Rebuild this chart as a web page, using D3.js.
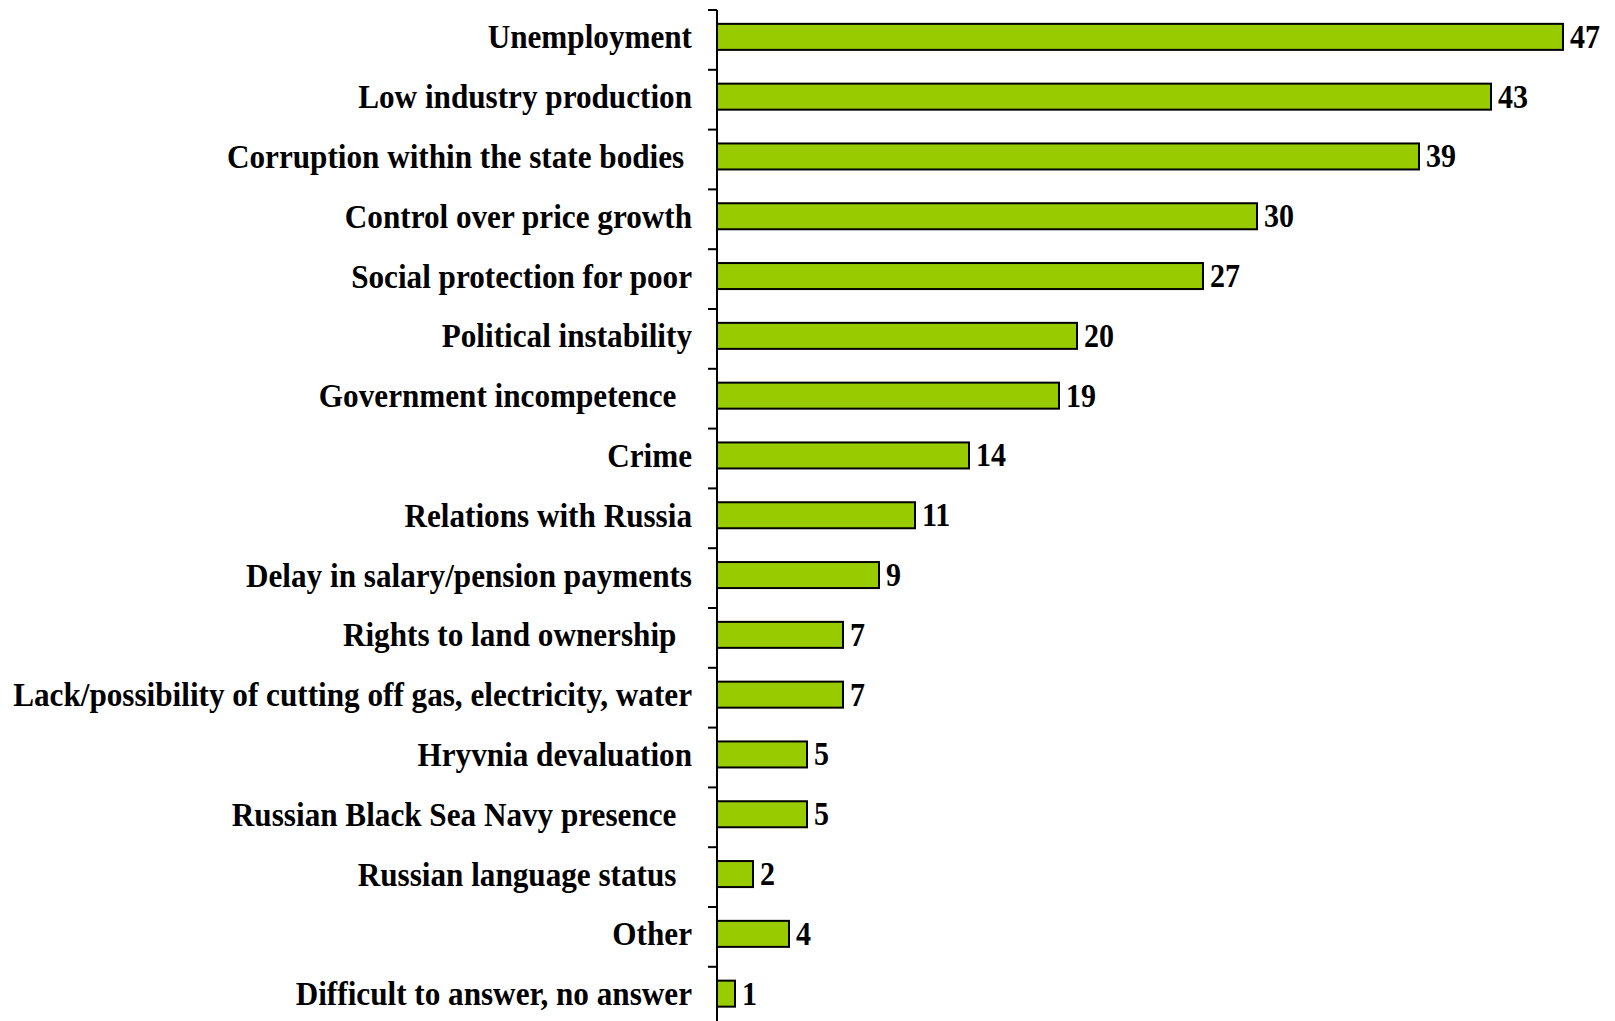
<!DOCTYPE html>
<html>
<head>
<meta charset="utf-8">
<script src="https://cdn.jsdelivr.net/npm/d3@7"></script>
<style>
  html, body { margin: 0; padding: 0; background: #ffffff; }
  svg { display: block; }
  text { font-family: "Liberation Serif", "Times New Roman", serif; font-weight: bold; fill: #000; white-space: pre; }
</style>
</head>
<body>
<svg id="chart" width="1615" height="1021"></svg>
<script>
const categories = [
  "Unemployment",
  "Low industry production",
  "Corruption within the state bodies ",
  "Control over price growth",
  "Social protection for poor",
  "Political instability",
  "Government incompetence  ",
  "Crime",
  "Relations with Russia",
  "Delay in salary/pension payments",
  "Rights to land ownership  ",
  "Lack/possibility of cutting off gas, electricity, water",
  "Hryvnia devaluation",
  "Russian Black Sea Navy presence  ",
  "Russian language status  ",
  "Other",
  "Difficult to answer, no answer"
];
const values = [47, 43, 39, 30, 27, 20, 19, 14, 11, 9, 7, 7, 5, 5, 2, 4, 1];

(function () {
const W = 1615, H = 1021;
const axisX = 717;
const topY = 10;
const step = 59.8;
const fontSize = 33;
const squeeze = 0.945;

const svg = d3.select("#chart");

const y = d3.scaleBand()
  .domain(categories)
  .range([topY, topY + step * categories.length])
  .paddingInner(0.565)
  .paddingOuter(0.2825)
  .align(0.41);

const x = d3.scaleLinear()
  .domain([0, 50])
  .range([axisX, axisX + 900]);

// bars
svg.append("g").selectAll("rect")
  .data(values)
  .join("rect")
  .attr("x", x(0))
  .attr("y", (d, i) => y(categories[i]))
  .attr("width", d => x(d) - x(0))
  .attr("height", y.bandwidth())
  .attr("fill", "#99CC00")
  .attr("stroke", "#000")
  .attr("stroke-width", 2);

// axis line + ticks at band boundaries
const ax = svg.append("g");
ax.append("line")
  .attr("x1", axisX).attr("x2", axisX)
  .attr("y1", topY).attr("y2", H)
  .attr("stroke", "#000").attr("stroke-width", 2);
const boundaries = d3.range(categories.length + 1).map(i => topY + i * y.step());
ax.selectAll("line.tick")
  .data(boundaries)
  .join("line")
  .attr("class", "tick")
  .attr("x1", axisX - 9).attr("x2", axisX)
  .attr("y1", d => d).attr("y2", d => d)
  .attr("stroke", "#000").attr("stroke-width", 2);

// category labels
svg.append("g").selectAll("g")
  .data(categories)
  .join("g")
  .attr("transform", d => `translate(${axisX - 25},${y(d) + y.bandwidth() / 2}) scale(${squeeze},1)`)
  .append("text")
  .attr("text-anchor", "end")
  .attr("dy", "0.35em")
  .attr("font-size", fontSize)
  .text(d => d);

// value labels
svg.append("g").selectAll("g")
  .data(values)
  .join("g")
  .attr("transform", (d, i) => `translate(${x(d) + 7},${y(categories[i]) + y.bandwidth() / 2}) scale(0.91,1)`)
  .append("text")
  .attr("text-anchor", "start")
  .attr("dy", "0.33em")
  .attr("font-size", fontSize)
  .text(d => d);
})();
</script>
</body>
</html>
